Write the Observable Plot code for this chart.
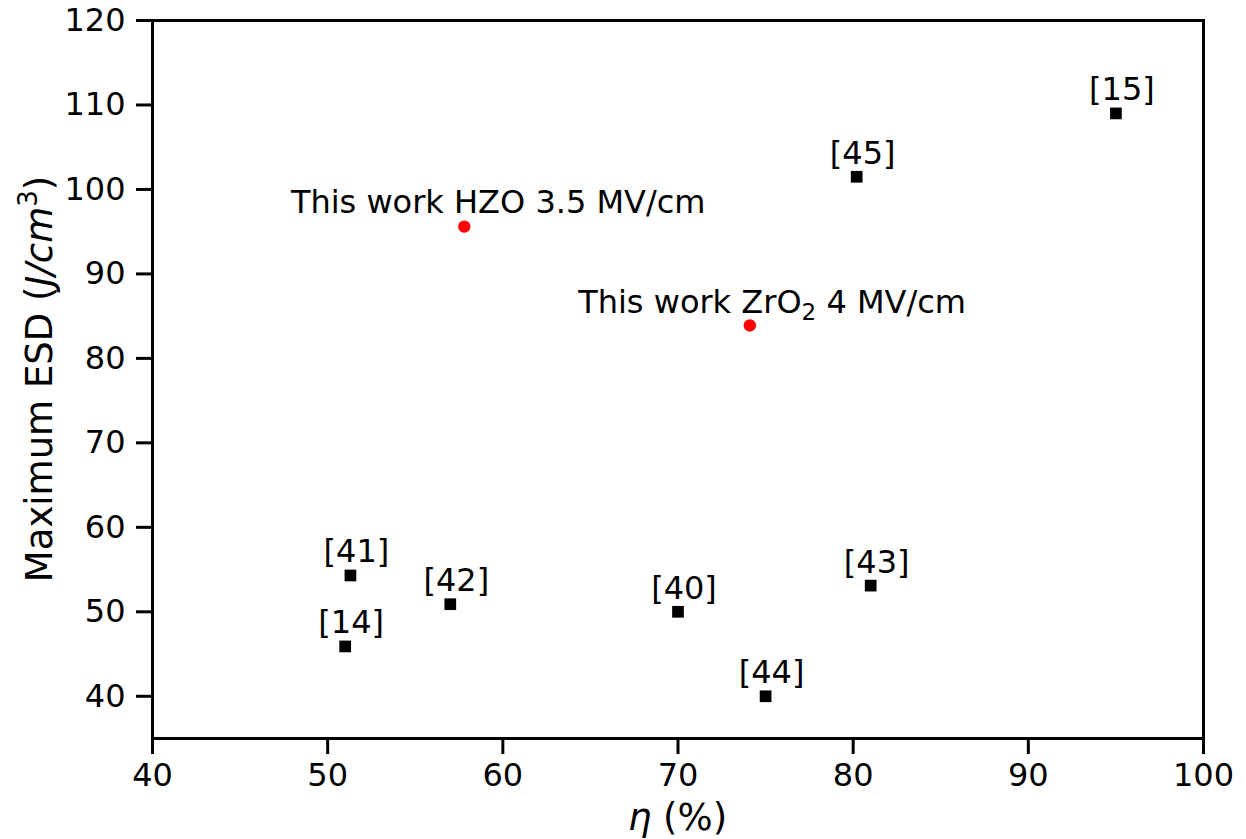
<!DOCTYPE html>
<html>
<head>
<meta charset="utf-8">
<script src="https://cdn.jsdelivr.net/npm/d3@7"></script>
<script src="https://cdn.jsdelivr.net/npm/@observablehq/plot@0.6"></script>
<style>
  html, body { margin: 0; padding: 0; background: #fff; }
  #chart { width: 1246px; height: 839px; }
</style>
</head>
<body>
<div id="chart"></div>
<script>
// Literature references (black squares)
const refLabels = ["[15]", "[45]", "[41]", "[14]", "[42]", "[40]", "[43]", "[44]"];
const refEta    = [95.0, 80.2, 51.3, 51.0, 57.0, 70.0, 81.0, 75.0];
const refESD    = [109.0, 101.5, 54.3, 45.9, 50.9, 50.0, 53.1, 40.0];

// This work (red dots)
const workLabels = ["This work HZO 3.5 MV/cm", "This work ZrO\u2082 4 MV/cm"];
const workEta    = [57.8, 74.1];
const workESD    = [95.6, 83.9];
// annotation text anchor (data coordinates, left/baseline)
const workTextEta = [47.9, 64.3];
const workTextESD = [97.2, 85.4];

const xTicks = [40, 50, 60, 70, 80, 90, 100];
const yTicks = [40, 50, 60, 70, 80, 90, 100, 110, 120];

const refs = refLabels.map((l, i) => ({label: l, eta: refEta[i], esd: refESD[i]}));
const work = workLabels.map((l, i) => ({label: l, eta: workEta[i], esd: workESD[i], tx: workTextEta[i], ty: workTextESD[i]}));

const W = 1246, H = 839;
const mL = 152, mR = 43, mT = 20, mB = 101;

const svg = Plot.plot({
  width: W,
  height: H,
  marginLeft: mL,
  marginRight: mR,
  marginTop: mT,
  marginBottom: mB,
  style: {fontFamily: "DejaVu Sans", fontSize: "32px", color: "black", background: "white", overflow: "visible"},
  x: {domain: [40, 100]},
  y: {domain: [35, 120]},
  marks: [
    Plot.axisX({ticks: xTicks, tickSize: 16, tickPadding: 9, strokeWidth: 3, fontSize: 32, label: null, tickFormat: d => String(d)}),
    Plot.axisY({ticks: yTicks, tickSize: 16, tickPadding: 11, strokeWidth: 3, fontSize: 32, label: null, tickFormat: d => String(d)}),
    Plot.dot(refs, {x: "eta", y: "esd", symbol: "square", r: 6.6, fill: "black", stroke: "none"}),
    Plot.dot(work, {x: "eta", y: "esd", r: 6.2, fill: "#ff0000", stroke: "none"}),
    Plot.text(refs, {x: "eta", y: "esd", text: "label", dx: 6, dy: -13, lineAnchor: "bottom", textAnchor: "middle", fontSize: 32, fill: "black"}),
    Plot.text(work, {x: "tx", y: "ty", text: "label", lineAnchor: "bottom", textAnchor: "start", fontSize: 32, fill: "black"}),
    Plot.frame({stroke: "black", strokeWidth: 3})
  ]
});

const s = d3.select(svg);

// Render the chemical subscript like mathtext (smaller, lowered "2")
s.selectAll("text").each(function() {
  const node = d3.select(this);
  const tsp = node.selectAll("tspan");
  const targets = tsp.size() ? tsp : node;
  targets.each(function() {
    const t = d3.select(this);
    const str = t.text();
    const k = str.indexOf("\u2082");
    if (k < 0) return;
    t.text(null);
    t.append("tspan").text(str.slice(0, k));
    t.append("tspan").attr("font-size", 23).attr("dy", 7).text("2");
    t.append("tspan").attr("dy", -7).text(str.slice(k + 1));
  });
});

// Axis titles with mixed styling (italic / superscript)
const cx = mL + (W - mL - mR) / 2;
const cy = mT + (H - mT - mB) / 2;

const xl = s.append("text")
  .attr("x", cx).attr("y", 830)
  .attr("text-anchor", "middle")
  .attr("font-family", "DejaVu Sans").attr("font-size", 37).attr("fill", "black");
xl.append("tspan").attr("font-style", "italic").text("\u03b7");
xl.append("tspan").text(" (%)");

const yl = s.append("text")
  .attr("transform", `translate(52,${cy}) rotate(-90)`)
  .attr("text-anchor", "middle")
  .attr("font-family", "DejaVu Sans").attr("font-size", 37).attr("fill", "black");
yl.append("tspan").text("Maximum ESD (");
yl.append("tspan").attr("font-style", "italic").text("J/cm");
yl.append("tspan").attr("font-size", 26).attr("dy", "-15").text("3");
yl.append("tspan").attr("dy", "15").text(")");

document.getElementById("chart").appendChild(svg);
</script>
</body>
</html>
